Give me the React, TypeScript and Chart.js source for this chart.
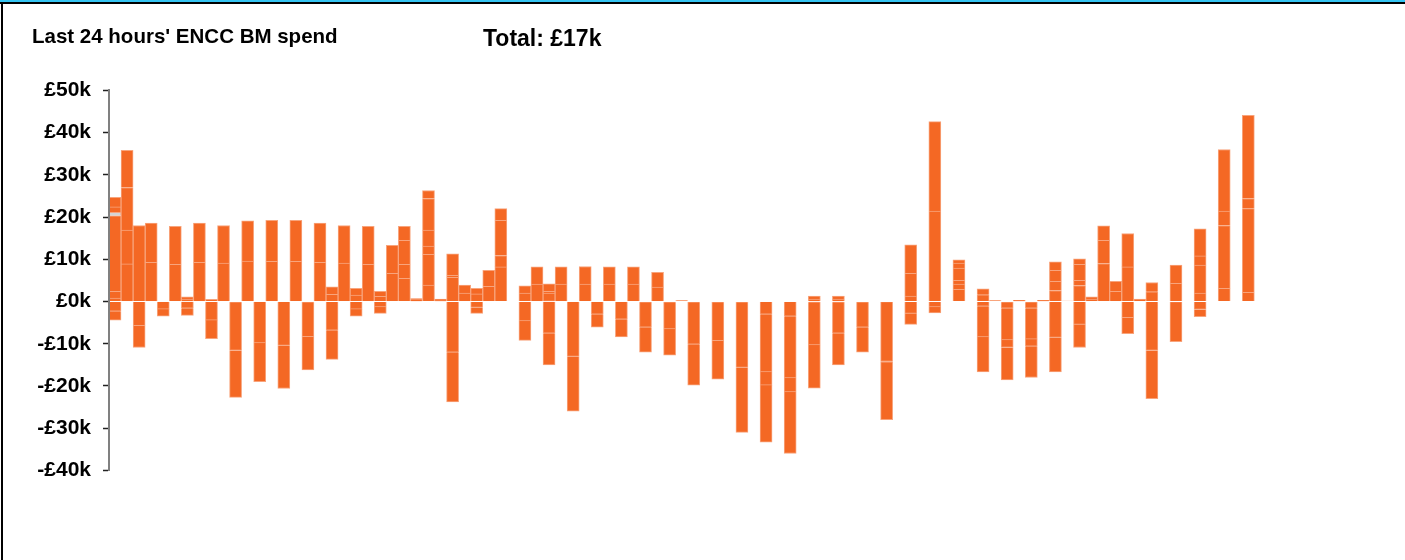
import { useEffect, useRef } from 'react';
import { Chart, registerables } from 'chart.js';

Chart.register(...registerables);

const TITLE = "Last 24 hours' ENCC BM spend";
const TOTAL_LABEL = 'Total: £17k';

const Y_MIN = -40000;
const Y_MAX = 50000;
const Y_STEP = 10000;

// Cumulative segment tops (in £k) of the positive part of each slot, bottom-up
const posLevels: number[][] = [
  [0.8, 2.4, 20.3, 21.1, 22.4, 24.7], // 0
  [8.9, 16.9, 27, 35.8], // 1
  [18], // 2
  [9.3, 18.6], // 3
  [], // 4
  [8.8, 17.8], // 5
  [0.55, 1.1], // 6
  [9.3, 18.6], // 7
  [0.5], // 8
  [9.1, 18], // 9
  [], // 10
  [9.6, 19.1], // 11
  [], // 12
  [9.5, 19.2], // 13
  [], // 14
  [9.5, 19.2], // 15
  [], // 16
  [9.3, 18.6], // 17
  [1.7, 3.5], // 18
  [9.1, 18], // 19
  [1.5, 3.1], // 20
  [8.8, 17.8], // 21
  [1.2, 2.4], // 22
  [6.7, 13.3], // 23
  [5.5, 8.8, 14.5, 17.8], // 24
  [0.4, 0.7], // 25
  [3.9, 11.2, 13.1, 16.9, 24.4, 26.3], // 26
  [0.3, 0.55], // 27
  [5.7, 6.2, 11.3], // 28
  [2, 3.9], // 29
  [1.8, 3.1], // 30
  [3.6, 7.4], // 31
  [8.2, 10.9, 19.2, 22], // 32
  [], // 33
  [2, 3.7], // 34
  [4.1, 8.2], // 35
  [0.3, 2, 2.4, 4.2], // 36
  [4.1, 8.2], // 37
  [], // 38
  [4.1, 8.3], // 39
  [], // 40
  [4.1, 8.2], // 41
  [], // 42
  [4.1, 8.2], // 43
  [], // 44
  [3.4, 6.9], // 45
  [], // 46
  [0.25], // 47
  [], // 48
  [], // 49
  [], // 50
  [], // 51
  [], // 52
  [], // 53
  [], // 54
  [], // 55
  [], // 56
  [], // 57
  [0.55, 1.3], // 58
  [], // 59
  [0.55, 1.3], // 60
  [], // 61
  [], // 62
  [], // 63
  [], // 64
  [], // 65
  [1.3, 6.7, 13.4], // 66
  [], // 67
  [21.4, 42.6], // 68
  [], // 69
  [2.9, 4.1, 5, 7.9, 9.1, 9.9], // 70
  [], // 71
  [1.6, 3], // 72
  [0.2], // 73
  [], // 74
  [0.3], // 75
  [], // 76
  [0.3], // 77
  [2.6, 4.8, 7.4, 9.4], // 78
  [0.1], // 79
  [3.8, 5, 8.8, 10.1], // 80
  [0.6, 1.1], // 81
  [9, 14.5, 17.9], // 82
  [2.4, 4.8], // 83
  [8.2, 16.1], // 84
  [0.6], // 85
  [2.3, 4.5], // 86
  [], // 87
  [4.3, 8.6], // 88
  [], // 89
  [2, 8.6, 10.8, 17.2], // 90
  [], // 91
  [3.1, 18, 21.4, 36], // 92
  [], // 93
  [2.2, 22, 24.4, 44.1], // 94
  [], // 95
];

// Cumulative segment bottoms (in £k) of the negative part of each slot, from zero downwards
const negLevels: number[][] = [
  [-2.3, -4.4], // 0
  [], // 1
  [-5.7, -10.9], // 2
  [], // 3
  [-1.8, -3.5], // 4
  [], // 5
  [-1.6, -3.3], // 6
  [], // 7
  [-4.4, -8.8], // 8
  [], // 9
  [-0.2, -11.6, -22.7], // 10
  [], // 11
  [-9.8, -19], // 12
  [], // 13
  [-10.4, -20.6], // 14
  [], // 15
  [-0.2, -8.3, -16.2], // 16
  [], // 17
  [-6.8, -13.7], // 18
  [], // 19
  [-1.8, -3.5], // 20
  [], // 21
  [-1.3, -2.8], // 22
  [], // 23
  [], // 24
  [], // 25
  [], // 26
  [], // 27
  [-12, -23.8], // 28
  [], // 29
  [-1.4, -2.8], // 30
  [], // 31
  [], // 32
  [], // 33
  [-4.6, -9.2], // 34
  [], // 35
  [-7.5, -15], // 36
  [], // 37
  [-13, -26], // 38
  [], // 39
  [-3, -6.1], // 40
  [], // 41
  [-4.2, -8.4], // 42
  [], // 43
  [-0.2, -6.1, -12], // 44
  [], // 45
  [-0.2, -6.5, -12.7], // 46
  [], // 47
  [-0.2, -10.1, -19.8], // 48
  [], // 49
  [-0.2, -9.3, -18.4], // 50
  [], // 51
  [-0.2, -15.6, -31], // 52
  [], // 53
  [-3, -16.7, -19.8, -33.3], // 54
  [], // 55
  [-3.5, -18.1, -21.4, -36], // 56
  [], // 57
  [-0.2, -10.3, -20.5], // 58
  [], // 59
  [-0.2, -7.5, -15], // 60
  [], // 61
  [-0.2, -6.1, -12], // 62
  [], // 63
  [-0.3, -14.2, -14.5, -28], // 64
  [], // 65
  [-2.8, -5.4], // 66
  [], // 67
  [-1.3, -2.7], // 68
  [], // 69
  [], // 70
  [], // 71
  [-1.1, -8.4, -16.7], // 72
  [], // 73
  [-0.2, -1.6, -9.1, -10.9, -18.6], // 74
  [], // 75
  [-0.2, -1.6, -8.9, -10.6, -18], // 76
  [], // 77
  [-8.5, -16.7], // 78
  [], // 79
  [-5.4, -10.9], // 80
  [], // 81
  [], // 82
  [], // 83
  [-3.8, -7.6], // 84
  [], // 85
  [-11.6, -23], // 86
  [], // 87
  [-0.3, -9.5], // 88
  [], // 89
  [-1.9, -3.6], // 90
  [], // 91
  [], // 92
  [], // 93
  [], // 94
  [], // 95
];

const slotLabels: string[] = posLevels.map((_, i) => 'SP' + (i + 1));

// the one grey segment: slot 0, positive layer 3
const GREY_SLOT = 0;
const GREY_LAYER = 3;

const ORANGE = '#f46824';
const EDGE = '#f8a47c';
const GREY = '#d4d4d4';
const FONT = "'Liberation Sans', Arial, Helvetica, sans-serif";

function layerData(levels: number[][], k: number): (number | null)[] {
  return levels.map((l) => (l.length > k ? (l[k] - (k > 0 ? l[k - 1] : 0)) * 1000 : null));
}

function fmt(v: number): string {
  const k = Math.round(v / 1000);
  return (k < 0 ? '-' : '') + '£' + Math.abs(k) + 'k';
}

export default function App() {
  const ref = useRef<HTMLCanvasElement | null>(null);

  useEffect(() => {
    if (!ref.current) return;
    const maxPos = Math.max(...posLevels.map((l) => l.length));
    const maxNeg = Math.max(...negLevels.map((l) => l.length));
    const datasets: any[] = [];
    for (let k = 0; k < maxPos; k++) {
      const layer = k;
      datasets.push({
        label: 'pos' + k,
        data: layerData(posLevels, k),
        stack: 's',
        backgroundColor: (c: any) => (c.dataIndex === GREY_SLOT && layer === GREY_LAYER ? GREY : ORANGE),
        borderColor: EDGE,
        borderWidth: { top: 1, bottom: 0, left: 1, right: 1 },
        borderSkipped: false,
        barPercentage: 1,
        categoryPercentage: 1,
      });
    }
    for (let k = 0; k < maxNeg; k++) {
      datasets.push({
        label: 'neg' + k,
        data: layerData(negLevels, k),
        stack: 's',
        backgroundColor: ORANGE,
        borderColor: EDGE,
        borderWidth: { top: 0, bottom: 1, left: 1, right: 1 },
        borderSkipped: false,
        barPercentage: 1,
        categoryPercentage: 1,
      });
    }

    const chart = new Chart(ref.current, {
      type: 'bar',
      data: { labels: slotLabels, datasets },
      options: {
        animation: false,
        responsive: false,
        layout: { padding: { left: 0, top: 90.4, right: 138.6, bottom: 89.6 } },
        plugins: { legend: { display: false }, tooltip: { enabled: false }, title: { display: false } },
        scales: {
          x: { stacked: true, display: false },
          y: {
            stacked: true,
            min: Y_MIN,
            max: Y_MAX,
            afterFit: (s: any) => {
              s.width = 109;
            },
            ticks: {
              stepSize: Y_STEP,
              color: '#000',
              padding: 12,
              font: { family: FONT, size: 21, weight: 'bold' },
              callback: (v: any) => fmt(Number(v)),
            },
            grid: { drawOnChartArea: false, drawTicks: true, tickLength: 6, tickColor: '#222', tickWidth: 1.5 },
            border: { display: true, color: '#808080', width: 2, z: 1 },
          },
        },
      } as any,
    });
    return () => chart.destroy();
  }, []);

  return (
    <div style={{ position: 'absolute', left: 0, top: 0, width: 1405, height: 560, background: '#fff', overflow: 'hidden' }}>
      <canvas ref={ref} width={1405} height={560} style={{ position: 'absolute', left: 0, top: 0, width: 1405, height: 560 }} />
      <div style={{ position: 'absolute', left: 0, top: 0, width: 1405, height: 2, background: '#35c4f2' }} />
      <div style={{ position: 'absolute', left: 0, top: 2, width: 1405, height: 2, background: '#000' }} />
      <div style={{ position: 'absolute', left: 1, top: 2, width: 2, height: 558, background: '#000' }} />
      <div
        style={{
          position: 'absolute', left: 32, top: 26, fontFamily: FONT, fontWeight: 'bold', fontSize: 20.5,
          lineHeight: '20.5px', color: '#000', whiteSpace: 'nowrap',
        }}
      >
        {TITLE}
      </div>
      <div
        style={{
          position: 'absolute', left: 483, top: 26.5, fontFamily: FONT, fontWeight: 'bold', fontSize: 23,
          lineHeight: '23px', color: '#000', whiteSpace: 'nowrap',
        }}
      >
        {TOTAL_LABEL}
      </div>
    </div>
  );
}
